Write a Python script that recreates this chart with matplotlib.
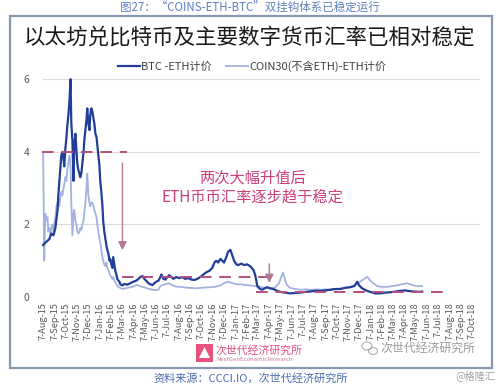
import matplotlib
matplotlib.use('Agg')
import matplotlib.pyplot as plt
from matplotlib.patches import Rectangle, Polygon, Ellipse
import pandas as pd

plt.rcParams['font.family'] = ['Noto Sans CJK SC', 'DejaVu Sans']

# 数据（横轴：自 2015-08-07 起的天数）
start_date = '2015-08-07'

btc_days = [0, 6, 12, 17, 22, 28, 33, 39, 41, 44, 47, 49, 52, 55, 57, 60, 63, 65, 68, 71,
            74, 76, 79, 82, 84, 87, 90, 92, 95, 98, 100, 103, 106, 109, 111, 114, 117, 119,
            122, 125, 127, 130, 133, 136, 138, 141, 144, 146, 149, 152, 154, 157, 160, 162,
            165, 168, 171, 173, 176, 179, 181, 184, 187, 189, 192, 195, 198, 200, 203, 206,
            208, 214, 219, 227, 235, 243, 251, 257, 262, 268, 273, 278, 284, 289, 295, 300,
            305, 311, 316, 319, 324, 330, 335, 340, 346, 351, 359, 367, 375, 383, 391, 400,
            408, 416, 424, 432, 440, 448, 456, 462, 467, 472, 478, 483, 488, 494, 499, 505,
            510, 515, 521, 526, 534, 542, 550, 558, 567, 572, 575, 577, 580, 585, 591, 599,
            604, 612, 620, 629, 639, 653, 666, 680, 693, 707, 720, 734, 747, 761, 774, 787,
            801, 814, 828, 839, 847, 852, 860, 871, 882, 895, 909, 922, 936, 949, 963, 976,
            989, 1003, 1016, 1022]
btc_eth = [1.43, 1.5, 1.55, 1.6, 1.75, 1.7, 1.9, 2.4, 2.8, 3.2, 3.6, 3.9, 4.0, 3.8, 3.6, 4.1,
           4.4, 4.7, 5.0, 5.4, 6.0, 4.8, 4.3, 3.2, 4.2, 4.5, 4.0, 3.7, 3.5, 3.4, 3.3, 3.4, 3.7,
           4.0, 4.3, 4.6, 4.9, 5.2, 4.8, 4.6, 5.0, 5.2, 5.1, 4.9, 4.8, 4.5, 4.4, 4.2, 3.9, 3.6,
           3.2, 2.9, 2.5, 2.1, 1.8, 1.6, 1.4, 1.3, 1.2, 1.0, 1.05, 0.9, 0.8, 1.1, 0.9, 0.7,
           0.6, 0.5, 0.45, 0.42, 0.35, 0.32, 0.36, 0.34, 0.38, 0.42, 0.45, 0.5, 0.55, 0.58,
           0.5, 0.45, 0.38, 0.35, 0.33, 0.38, 0.42, 0.45, 0.55, 0.62, 0.5, 0.48, 0.55, 0.6,
           0.55, 0.5, 0.55, 0.52, 0.55, 0.5, 0.52, 0.48, 0.47, 0.5, 0.55, 0.62, 0.68, 0.72,
           0.8, 0.95, 1.0, 0.95, 1.05, 1.0, 0.95, 1.1, 1.25, 1.3, 1.15, 1.0, 0.9, 0.88, 0.92,
           0.88, 0.9, 0.85, 0.75, 0.6, 0.45, 0.32, 0.27, 0.22, 0.2, 0.25, 0.27, 0.24, 0.22,
           0.18, 0.14, 0.12, 0.1, 0.11, 0.12, 0.14, 0.15, 0.17, 0.17, 0.18, 0.2, 0.22, 0.22,
           0.25, 0.27, 0.3, 0.42, 0.32, 0.24, 0.18, 0.14, 0.1, 0.1, 0.12, 0.13, 0.15, 0.17,
           0.18, 0.16, 0.15, 0.14, 0.15]

coin_days = [0, 3, 6, 9, 12, 14, 17, 20, 22, 25, 28, 30, 33, 36, 39, 41, 44, 47, 49, 52, 55,
             57, 60, 63, 65, 68, 71, 74, 76, 79, 82, 84, 87, 90, 92, 95, 98, 100, 103, 106,
             109, 111, 114, 117, 119, 122, 125, 127, 130, 133, 136, 138, 141, 144, 146, 149,
             152, 154, 157, 160, 162, 165, 168, 171, 173, 176, 179, 181, 184, 187, 189, 192,
             195, 198, 200, 203, 208, 214, 222, 230, 238, 246, 254, 262, 270, 278, 286, 295,
             303, 311, 316, 321, 330, 338, 346, 354, 362, 370, 383, 397, 410, 424, 437, 451,
             464, 478, 488, 497, 505, 513, 521, 532, 545, 558, 572, 585, 599, 612, 626, 637,
             642, 647, 653, 658, 666, 680, 693, 707, 720, 734, 747, 761, 774, 787, 801, 814,
             828, 841, 855, 866, 874, 882, 890, 901, 914, 928, 941, 954, 968, 981, 995, 1008,
             1022]
coin30_eth = [4.0, 1.0, 2.3, 2.1, 2.2, 1.8, 1.9, 1.7, 1.9, 2.0, 1.8, 2.0, 2.2, 2.5, 2.6, 2.7,
              2.5, 2.8, 2.9, 2.8, 3.0, 3.1, 3.3, 3.2, 3.5, 3.7, 3.9, 3.6, 2.6, 1.7, 2.3, 2.4,
              2.1, 2.0, 1.8, 1.75, 1.8, 1.9, 1.85, 2.0, 2.1, 2.3, 2.6, 3.0, 3.4, 2.8, 2.6, 2.5,
              2.6, 2.6, 2.5, 2.4, 2.3, 2.2, 2.0, 1.8, 1.6, 1.5, 1.3, 1.1, 1.0, 0.9, 0.85, 0.95,
              0.8, 0.75, 0.65, 0.6, 0.55, 0.5, 0.55, 0.45, 0.4, 0.35, 0.3, 0.28, 0.25, 0.22,
              0.24, 0.26, 0.27, 0.3, 0.33, 0.3, 0.27, 0.25, 0.22, 0.2, 0.19, 0.2, 0.3, 0.33,
              0.35, 0.38, 0.34, 0.3, 0.28, 0.28, 0.26, 0.25, 0.24, 0.25, 0.26, 0.27, 0.28,
              0.32, 0.38, 0.42, 0.4, 0.38, 0.35, 0.35, 0.33, 0.32, 0.3, 0.28, 0.25, 0.24, 0.26,
              0.4, 0.55, 0.67, 0.45, 0.32, 0.25, 0.22, 0.2, 0.21, 0.2, 0.21, 0.2, 0.21, 0.2,
              0.22, 0.23, 0.26, 0.28, 0.32, 0.42, 0.5, 0.56, 0.45, 0.38, 0.3, 0.28, 0.28, 0.3,
              0.32, 0.35, 0.38, 0.33, 0.3, 0.3]

# 虚线参考水平：(起始天, 结束天, 数值)
ref_levels = [(-2, 227, 4.0), (214, 604, 0.56), (575, 1084, 0.15)]
# 箭头：(天, 起点数值, 终点数值)
arrows = [(214, 3.69, 1.29), (610, 0.91, 0.39)]

y_ticks = [0, 2, 4, 6]
tick_months = pd.date_range('2015-08-01', '2018-10-01', freq='MS') + pd.Timedelta(days=6)
tick_labels = [f"{d.day}-{d.strftime('%b-%y')}" for d in tick_months]

legend_labels = ['BTC -ETH计价', 'COIN30(不含ETH)-ETH计价']

dark_blue = '#203E98'
light_blue = '#A3B2DF'
dash_color = '#B4507E'
pink = '#CC3F7D'
gray_txt = '#595959'

t0 = pd.Timestamp(start_date)
btc_x = t0 + pd.to_timedelta(btc_days, unit='D')
coin_x = t0 + pd.to_timedelta(coin_days, unit='D')

W, H = 499, 387
fig = plt.figure(figsize=(W / 100, H / 100), dpi=100)
fig.patch.set_facecolor('white')

# 外框
fig.patches.append(Rectangle((9.5 / W, 1 - 368 / H), (492 - 9.5) / W, (368 - 16) / H,
                             transform=fig.transFigure, fill=False,
                             edgecolor='#8797B0', linewidth=1.6))

ax = fig.add_axes([42 / W, 1 - 297 / H, (480 - 42) / W, (297 - 79.3) / H])

l2, = ax.plot(coin_x, coin30_eth, color=light_blue, lw=1.3, zorder=3, clip_on=False)
l1, = ax.plot(btc_x, btc_eth, color=dark_blue, lw=1.6, zorder=4, clip_on=False)

for d0, d1, v in ref_levels:
    ax.plot([t0 + pd.Timedelta(days=d0), t0 + pd.Timedelta(days=d1)], [v, v],
            color=dash_color, lw=1.4, dashes=(6, 4), zorder=5)

for d, v0, v1 in arrows:
    xd = t0 + pd.Timedelta(days=d)
    ax.annotate('', xy=(xd, v1), xytext=(xd, v0),
                arrowprops=dict(arrowstyle='-|>,head_width=0.25,head_length=0.5',
                                color='#B07894', lw=1.0, shrinkA=0, shrinkB=0), zorder=6)

ax.text(t0 + pd.Timedelta(days=565), 3.28, '两次大幅升值后', ha='center', va='center',
        fontsize=11, color=pink)
ax.text(t0 + pd.Timedelta(days=565), 2.76, 'ETH币币汇率逐步趋于稳定', ha='center', va='center',
        fontsize=11, color=pink)

ax.set_xlim(t0 - pd.Timedelta(days=3), t0 + pd.Timedelta(days=1178))
ax.set_ylim(0, 6)
ax.set_yticks(y_ticks)
ax.set_yticklabels([str(v) for v in y_ticks])
ax.set_xticks(tick_months)
ax.set_xticklabels(tick_labels, rotation=90, fontsize=6.6, color=gray_txt)
ax.tick_params(axis='y', length=0, labelsize=7.5, labelcolor=gray_txt, pad=9)
ax.tick_params(axis='x', length=0, pad=4)
ax.grid(axis='y', color='#DCDCDC', lw=0.8)
ax.set_axisbelow(True)
for s in ax.spines.values():
    s.set_visible(False)

ax.legend([l1, l2], legend_labels, loc='center', bbox_to_anchor=(252 / W, 1 - 66 / H),
          bbox_transform=fig.transFigure, ncol=2, frameon=False, fontsize=8,
          handlelength=2.0, columnspacing=1.3, handletextpad=0.1, labelcolor='#404040')

# 标题
fig.text(250 / W, 1 - 8 / H, '图27：“COINS-ETH-BTC”双挂钩体系已稳定运行', ha='center',
         va='center', fontsize=8.3, color='#5F80C0')
fig.text(250 / W, 1 - 38 / H, '以太坊兑比特币及主要数字货币汇率已相对稳定', ha='center',
         va='center', fontsize=15.5, color='#1A1A1A')

# 底部标识
fig.patches.append(Rectangle((196 / W, 1 - 362 / H), 17 / W, 18 / H,
                             transform=fig.transFigure, facecolor='#E8517C', edgecolor='none'))
fig.patches.append(Polygon([(204.5 / W, 1 - 347 / H), (199 / W, 1 - 358 / H), (210 / W, 1 - 358 / H)],
                           closed=True, transform=fig.transFigure, facecolor='white',
                           edgecolor='none'))
fig.text(216 / W, 1 - 350 / H, '次世代经济研究所', ha='left', va='center', fontsize=7.8,
         color='#E0507A')
fig.text(216 / W, 1 - 359.5 / H, 'NextGenEconomicResearch', ha='left', va='center',
         fontsize=4.3, color='#C07A90')
fig.patches.append(Ellipse((367 / W, 1 - 346 / H), 10 / W, 8 / H, transform=fig.transFigure,
                           fill=False, edgecolor='#B0B0B0', lw=0.8))
fig.patches.append(Ellipse((373 / W, 1 - 351 / H), 9 / W, 7 / H, transform=fig.transFigure,
                           fill=False, edgecolor='#B0B0B0', lw=0.8))
fig.text(380 / W, 1 - 348 / H, '次世代经济研究所', ha='left', va='center', fontsize=8.6,
         color='#9A9A9A')

fig.text(251 / W, 1 - 378 / H, '资料来源：CCCI.IO，次世代经济研究所', ha='center', va='center',
         fontsize=8, color='#4A6CB0')
fig.text(495 / W, 1 - 376 / H, '@格隆汇', ha='right', va='center', fontsize=7.3, color='#A0A0A0')

fig.savefig('out.png', dpi=100, facecolor='white')
